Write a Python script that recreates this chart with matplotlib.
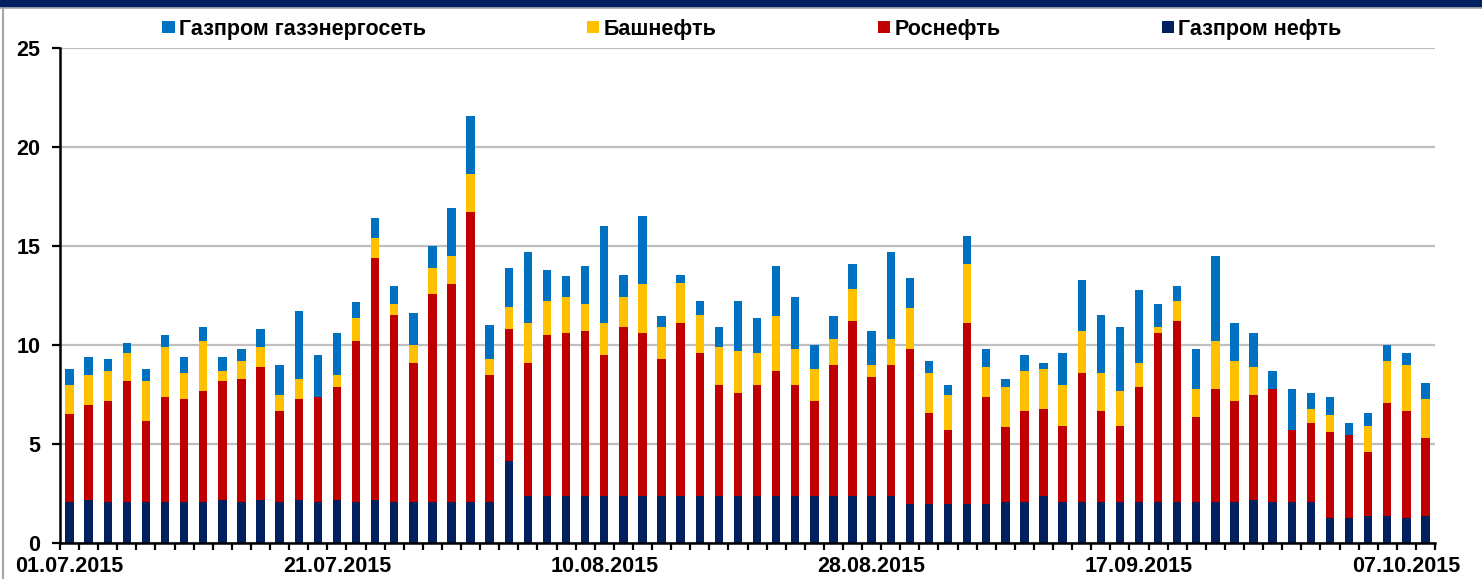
import numpy as np
import matplotlib
matplotlib.use('Agg')
import matplotlib.pyplot as plt
from matplotlib.patches import Rectangle
from matplotlib.lines import Line2D

# trading days 01.07.2015 - 08.10.2015, labels every 14 bars
tickLabels = ['01.07.2015', '21.07.2015', '10.08.2015', '28.08.2015', '17.09.2015', '07.10.2015']
tickIdx = [0, 14, 28, 42, 56, 70]

seriesNames = ['Газпром нефть', 'Роснефть', 'Башнефть', 'Газпром газэнергосеть']

gazpromNeft = [2.09, 2.18, 2.09, 2.09, 2.09, 2.09, 2.09, 2.09, 2.18, 2.09, 2.18, 2.09, 2.18, 2.09,
               2.18, 2.09, 2.18, 2.09, 2.09, 2.09, 2.09, 2.09, 2.09, 4.12, 2.39, 2.39, 2.39, 2.39,
               2.39, 2.39, 2.39, 2.39, 2.39, 2.39, 2.39, 2.39, 2.39, 2.39, 2.39, 2.39, 2.39, 2.39,
               2.39, 2.39, 1.98, 1.98, 1.98, 1.98, 1.98, 2.09, 2.09, 2.39, 2.09, 2.09, 2.09, 2.09,
               2.09, 2.09, 2.09, 2.09, 2.09, 2.09, 2.18, 2.09, 2.09, 2.09, 1.27, 1.27, 1.36, 1.36,
               1.27, 1.36]

rosneft = [4.44, 4.78, 5.06, 6.08, 4.05, 5.28, 5.17, 5.60, 5.99, 6.19, 6.72, 4.57, 5.08, 5.28,
           5.69, 8.13, 12.19, 9.44, 7.01, 10.47, 10.97, 14.64, 6.40, 6.70, 6.71, 8.13, 8.23, 8.34,
           7.11, 8.54, 8.23, 6.92, 8.73, 7.22, 5.58, 5.18, 5.58, 6.29, 5.58, 4.76, 6.60, 8.84,
           5.99, 6.60, 7.83, 4.57, 3.75, 9.14, 5.39, 3.75, 4.57, 4.36, 3.84, 6.49, 4.57, 3.84,
           5.78, 8.53, 9.14, 4.25, 5.69, 5.06, 5.28, 5.69, 3.64, 3.95, 4.36, 4.16, 3.25, 5.69,
           5.39, 3.96]

bashneft = [1.44, 1.53, 1.53, 1.42, 2.03, 2.54, 1.32, 2.53, 0.51, 0.92, 1.01, 0.80, 1.02, 0.0,
            0.62, 1.12, 1.02, 0.52, 0.92, 1.32, 1.44, 1.93, 0.82, 1.12, 2.02, 1.72, 1.82, 1.32,
            1.62, 1.51, 2.44, 1.62, 2.03, 1.92, 1.94, 2.13, 1.64, 2.76, 1.84, 1.66, 1.33, 1.62,
            0.61, 1.33, 2.04, 2.03, 1.73, 2.95, 1.53, 2.03, 2.02, 2.06, 2.04, 2.15, 1.92, 1.74,
            1.23, 0.31, 1.01, 1.44, 2.44, 2.05, 1.44, 0.0, 0.0, 0.71, 0.83, 0.0, 1.32, 2.15,
            2.33, 1.94]

gazpromGaz = [0.84, 0.89, 0.63, 0.50, 0.64, 0.61, 0.80, 0.71, 0.70, 0.61, 0.91, 1.53, 3.45, 2.13,
              2.13, 0.81, 1.03, 0.92, 1.62, 1.12, 2.42, 2.93, 1.72, 1.94, 3.56, 1.53, 1.03, 1.92,
              4.89, 1.12, 3.45, 0.51, 0.41, 0.71, 1.02, 2.54, 1.73, 2.53, 2.63, 1.21, 1.12, 1.22,
              1.74, 4.36, 1.51, 0.62, 0.51, 1.43, 0.91, 0.41, 0.82, 0.29, 1.62, 2.53, 2.95, 3.26,
              3.66, 1.12, 0.73, 2.03, 4.28, 1.92, 1.72, 0.90, 2.05, 0.82, 0.91, 0.61, 0.62, 0.82,
              0.62, 0.82]

colors = ['#002060', '#C00000', '#FFC000', '#0070C0']

plt.rcParams['font.family'] = ['Liberation Sans', 'DejaVu Sans']
plt.rcParams['font.weight'] = 'bold'

W, H = 1482, 579
fig = plt.figure(figsize=(W / 100, H / 100), dpi=100)
ax = fig.add_axes([60 / W, 36 / H, 1375 / W, 495 / H])

x = np.arange(len(rosneft))
bottom = np.zeros(len(x))
bars = []
for vals, col, name in zip([gazpromNeft, rosneft, bashneft, gazpromGaz], colors, seriesNames):
    b = ax.bar(x, vals, width=0.44, bottom=bottom, color=col, label=name, zorder=3, linewidth=0)
    bars.append(b)
    bottom += np.array(vals)

ax.set_xlim(-0.5, len(x) - 0.5)
ax.set_ylim(0, 25)
ax.set_yticks([0, 5, 10, 15, 20, 25])
ax.yaxis.grid(True, color='#BFBFBF', linewidth=1.6, zorder=0)
ax.set_axisbelow(True)

ax.set_xticks(tickIdx)
ax.set_xticklabels(tickLabels)
ax.set_xticks(np.arange(-0.5, len(x)), minor=True)
ax.tick_params(axis='x', which='major', length=0, pad=9.5, labelsize=15.5)
ax.tick_params(axis='x', which='minor', length=5, width=1.6, direction='out')
ax.tick_params(axis='y', length=6, width=1.6, pad=8, labelsize=15.5)

for s in ['top', 'right']:
    ax.spines[s].set_visible(False)
for s in ['left', 'bottom']:
    ax.spines[s].set_linewidth(1.8)
    ax.spines[s].set_zorder(4)

handles = bars[::-1]
labels = seriesNames[::-1]
fig.legend(handles, labels, ncol=4, loc='center', bbox_to_anchor=(752 / W, 1 - 29 / H),
           frameon=False, prop={'size': 15.5, 'weight': 'bold'}, columnspacing=7.5,
           handlelength=0.56, handleheight=0.5, handletextpad=0.2)

# top band and thin frame
fig.patches.append(Rectangle((0, 1 - 6 / H), 1, 6 / H, transform=fig.transFigure,
                             color='#002060', zorder=5))
fig.lines.append(Line2D([0, 1], [1 - 7.5 / H, 1 - 7.5 / H], transform=fig.transFigure,
                        color='#A6A6A6', linewidth=1.2))
fig.lines.append(Line2D([2.5 / W, 2.5 / W], [0, 1 - 7.5 / H], transform=fig.transFigure,
                        color='#A6A6A6', linewidth=1.5))

fig.savefig('out.png', dpi=100)
plt.close(fig)
